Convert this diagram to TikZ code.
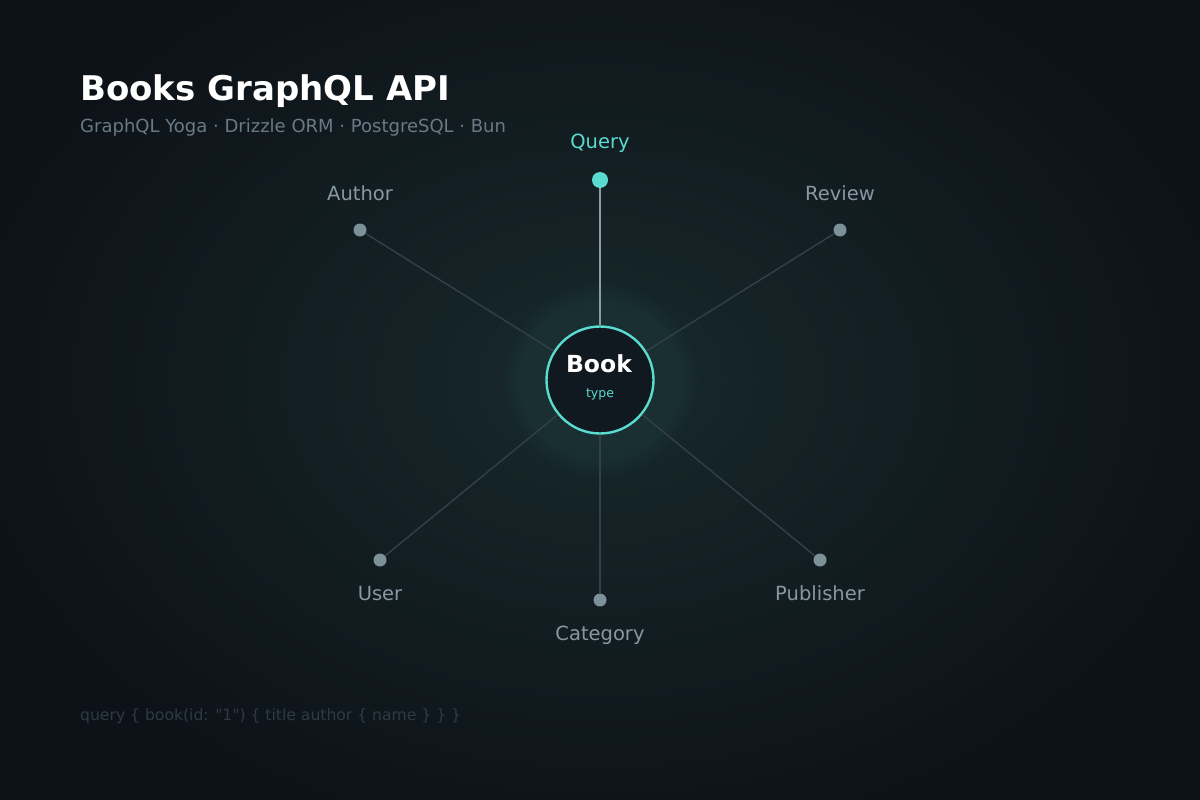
\documentclass[tikz,border=0pt]{standalone}
\usepackage{fontspec}
\setmainfont{DejaVu Sans}
\newfontfamily\codefont{DejaVu Sans}
\usetikzlibrary{fadings}
\definecolor{bgdark}{HTML}{0D1218}
\definecolor{bgmid}{HTML}{17292C}
\definecolor{teal}{HTML}{5ADBD0}
\definecolor{dotgray}{HTML}{7D9199}
\definecolor{labgray}{HTML}{8798A2}
\definecolor{edgegray}{HTML}{33404A}
\definecolor{qline}{HTML}{8C9DA8}
\definecolor{subgray}{HTML}{687A85}
\definecolor{codegray}{HTML}{2E3A44}
\definecolor{bookfill}{HTML}{101820}
\tikzset{
  leaf/.style={circle, fill=dotgray, inner sep=0pt, minimum size=13pt},
  rootdot/.style={circle, fill=teal, inner sep=0pt, minimum size=16pt},
  leaflabel/.style={anchor=base, text=labgray, font=\fontsize{19.5}{22}\selectfont, inner sep=0pt},
  edge/.style={draw=edgegray, line width=1.4pt},
}
\begin{document}
\begin{tikzpicture}[x=1pt,y=-1pt]
\useasboundingbox (0,0) rectangle (1200,800);
\fill[bgdark] (0,0) rectangle (1200,800);
\shade[inner color=bgmid, outer color=bgdark] (600,380) ellipse (640 and 470);
\fill[teal, fill opacity=0.05, path fading=circle with fuzzy edge 20 percent] (600,380) circle (100);

% title
\node[anchor=base west, inner sep=0pt, text=white, font=\fontsize{34}{40}\selectfont\bfseries] (title) at (80,100) {Books GraphQL API};
\node[anchor=base west, inner sep=0pt, text=subgray, font=\fontsize{18}{22}\selectfont] (subtitle) at (80,132) {GraphQL Yoga · Drizzle ORM · PostgreSQL · Bun};

% nodes
\node[rootdot] (query) at (600,180) {};
\node[leaf] (author) at (360,230) {};
\node[leaf] (review) at (840,230) {};
\node[leaf] (user) at (380,560) {};
\node[leaf] (category) at (600,600) {};
\node[leaf] (publisher) at (820,560) {};
\node[circle, draw=teal, line width=2.4pt, fill=bookfill, minimum size=107pt, inner sep=0pt] (book) at (600,380) {};

% edges
\draw[qline, line width=2pt] (book) -- (query);
\path[edge] (book) -- (author);
\path[edge] (book) -- (review);
\path[edge] (book) -- (user);
\path[edge] (book) -- (category);
\path[edge] (book) -- (publisher);

% book text
\node[anchor=base, inner sep=0pt, text=white, font=\fontsize{23.5}{26}\selectfont\bfseries] (booktitle) at (599,372) {Book};
\node[anchor=base, inner sep=0pt, text=teal, font=\fontsize{12.5}{14}\selectfont] (booktype) at (600,397) {type};

% labels
\node[leaflabel, text=teal] (lquery) at (600,148) {Query};
\node[leaflabel] (lauthor) at (360,200) {Author};
\node[leaflabel] (lreview) at (840,200) {Review};
\node[leaflabel] (luser) at (380,600) {User};
\node[leaflabel] (lcategory) at (600,640) {Category};
\node[leaflabel] (lpublisher) at (820,600) {Publisher};

% code line
\node[anchor=base west, inner sep=0pt, text=codegray, font=\codefont\fontsize{15.6}{19}\selectfont] (code) at (80,720) {query \{ book(id: "1") \{ title author \{ name \} \} \}};
\end{tikzpicture}
\end{document}
